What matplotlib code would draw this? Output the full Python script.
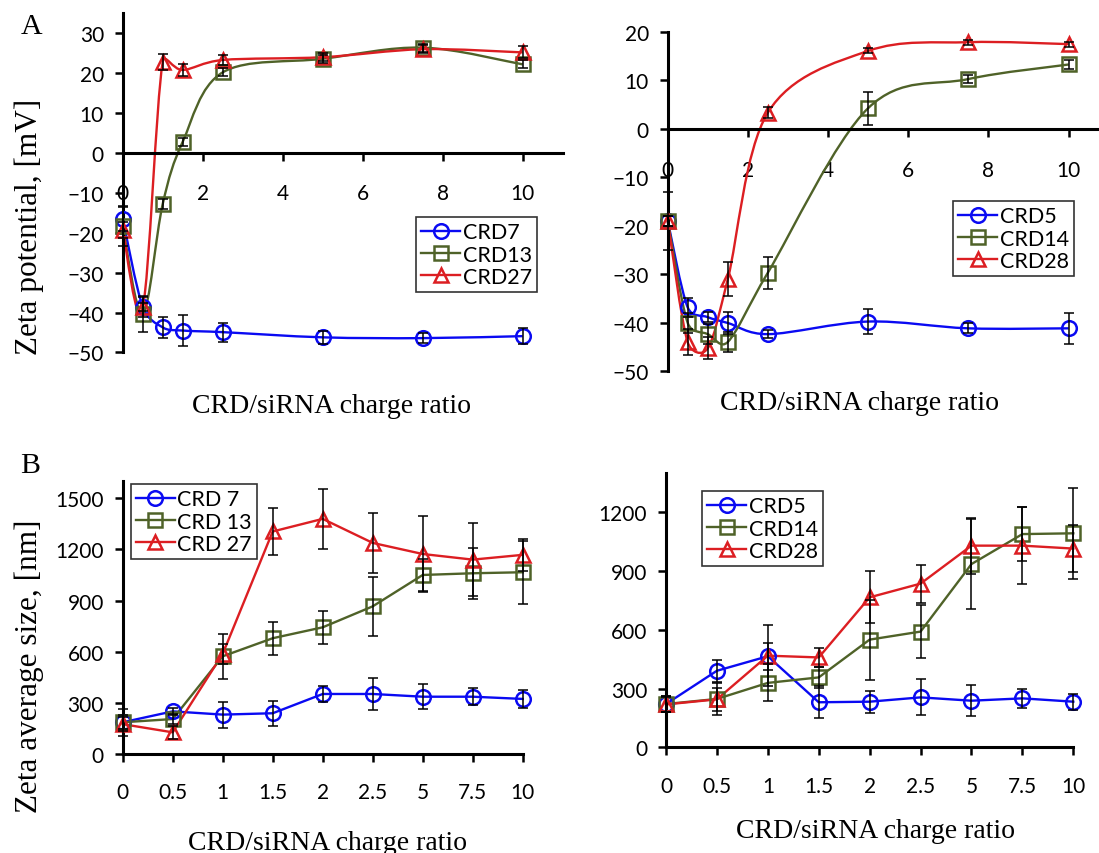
import numpy as np
import matplotlib
matplotlib.use("Agg")
import matplotlib.pyplot as plt
from matplotlib.path import Path
from matplotlib.patches import PathPatch
from matplotlib.lines import Line2D

plt.rcParams['font.family'] = ['Lato', 'DejaVu Sans']
SERIF = ['Liberation Serif', 'DejaVu Serif']

# ---- data ----
# panel A: zeta potential vs charge ratio (numeric x)
ratio_a = [0, 0.5, 1, 1.5, 2.5, 5, 7.5, 10]

crd7_zeta = [-16.5, -38.5, -43.7, -44.5, -44.9, -46.2, -46.4, -45.9]
crd7_zeta_err = [3, 1, 2.6, 3.8, 2.4, 1.7, 1.3, 2]
crd13_zeta = [-18.4, -40.4, -12.8, 2.8, 20.2, 23.6, 26.4, 22.2]
crd13_zeta_err = [5, 4.5, 1.2, 1, 1, 1, 1, 1]
crd27_zeta = [-19.2, -38.7, 22.8, 20.8, 23.3, 24.0, 26.0, 25.2]
crd27_zeta_err = [2, 2.5, 2, 1.5, 1.2, 1, 1, 1.5]

crd5_zeta = [-18.9, -36.8, -38.8, -40.0, -42.3, -39.7, -41.1, -41.1]
crd5_zeta_err = [6, 1.9, 1, 2.3, 0.8, 2.6, 1, 3.2]
crd14_zeta = [-18.9, -40.0, -42.3, -43.9, -29.6, 4.3, 10.3, 13.3]
crd14_zeta_err = [1, 2, 2, 2, 3.3, 3.4, 0.8, 1]
crd28_zeta = [-19.0, -44.0, -45.2, -30.9, 3.4, 16.1, 17.9, 17.5]
crd28_zeta_err = [1, 2.7, 2.3, 3.5, 1.2, 0.5, 0.5, 0.5]

# panel B: size vs charge ratio (categorical x)
ratio_b = ['0', '0.5', '1', '1.5', '2', '2.5', '5', '7.5', '10']

crd7_size = [186, 250, 231, 239, 352, 352, 336, 336, 323]
crd7_size_err = [80, 20, 76, 73, 48, 92, 75, 49, 54]
crd13_size = [186, 205, 573, 679, 743, 866, 1050, 1060, 1066]
crd13_size_err = [40, 30, 132, 97, 95, 174, 95, 150, 186]
crd27_size = [175, 127, 587, 1305, 1379, 1238, 1173, 1140, 1168]
crd27_size_err = [40, 40, 60, 137, 177, 175, 224, 215, 93]

crd5_size = [221, 391, 465, 230, 233, 255, 238, 250, 233]
crd5_size_err = [40, 56, 68, 82, 56, 92, 80, 47, 40]
crd14_size = [221, 247, 329, 357, 550, 591, 936, 1089, 1093]
crd14_size_err = [40, 80, 95, 55, 204, 134, 230, 136, 231]
crd28_size = [219, 245, 468, 459, 766, 836, 1030, 1030, 1015]
crd28_size_err = [40, 60, 157, 50, 133, 97, 143, 197, 119]

BLUE = '#0A0AF2'
GREEN = '#4F6228'
RED = '#DC1E22'

fig = plt.figure(figsize=(10.99, 8.54), dpi=100)


def smooth_line(ax, x, y, color):
    # excel style smoothing: catmull-rom arms (1/6), clamped to half the segment
    pts = ax.transData.transform(np.column_stack([x, y]))
    n = len(pts)
    verts = [pts[0]]
    codes = [Path.MOVETO]
    for i in range(n - 1):
        p0 = pts[max(i - 1, 0)]
        p1 = pts[i]
        p2 = pts[i + 1]
        p3 = pts[min(i + 2, n - 1)]
        d = np.hypot(*(p2 - p1))
        a1 = (p2 - p0) / 6
        a2 = (p3 - p1) / 6
        for a in (a1, a2):
            la = np.hypot(*a)
            if la > d / 2:
                a *= (d / 2) / la
        verts += [p1 + a1, p2 - a2, p2]
        codes += [Path.CURVE4] * 3
    verts = ax.transData.inverted().transform(np.array(verts))
    ax.add_patch(PathPatch(Path(verts, codes), fill=False, edgecolor=color,
                           lw=1.7, zorder=2, clip_on=False))


def draw_series(ax, x, y, err, color, marker, smooth):
    if smooth:
        smooth_line(ax, x, y, color)
    else:
        ax.plot(x, y, color=color, lw=1.7, zorder=2, clip_on=False)
    eb = ax.errorbar(x, y, yerr=err, fmt='none', ecolor='black', elinewidth=1.1,
                     capsize=3.5, capthick=1.1, zorder=4)
    for a in eb.get_children():
        a.set_clip_on(False)
    ax.plot(x, y, ls='none', marker=marker, ms=10.5, mfc='none', mec=color,
            mew=1.8, zorder=3, clip_on=False)


def style_axes(ax, xpad):
    for s in ['top', 'right']:
        ax.spines[s].set_visible(False)
    for s in ['left', 'bottom']:
        ax.spines[s].set_linewidth(2.2)
    ax.tick_params(axis='both', direction='out', length=5.5, width=1.8,
                   labelsize=15)
    ax.tick_params(axis='y', pad=8)
    ax.tick_params(axis='x', pad=xpad)


def add_legend(ax, labels, corner):
    handles = [Line2D([], [], color=c, lw=1.7, marker=m, ms=10.5, mfc='none',
                      mec=c, mew=1.8)
               for c, m in zip([BLUE, GREEN, RED], ['o', 's', '^'])]
    leg = ax.legend(handles, labels, loc='upper left',
                    bbox_to_anchor=(corner[0] / 1099, 1 - corner[1] / 854),
                    bbox_transform=fig.transFigure, fontsize=15.5,
                    frameon=True, fancybox=False, edgecolor='black',
                    handlelength=1.8, handletextpad=0.12, borderpad=0.25,
                    labelspacing=0.1, borderaxespad=0)
    leg.get_frame().set_linewidth(1.2)


# ---- A left ----
ax1 = fig.add_axes([0.11165, 0.58607, 0.40036, 0.39719])
ax1.set_xlim(0, 11)
ax1.set_ylim(-50, 35)
style_axes(ax1, 16)
ax1.spines['bottom'].set_position(('data', 0))
ax1.set_xticks([0, 2, 4, 6, 8, 10])
ax1.set_yticks(np.arange(-50, 31, 10))
draw_series(ax1, ratio_a, crd7_zeta, crd7_zeta_err, BLUE, 'o', True)
draw_series(ax1, ratio_a, crd13_zeta, crd13_zeta_err, GREEN, 's', True)
draw_series(ax1, ratio_a, crd27_zeta, crd27_zeta_err, RED, '^', True)
add_legend(ax1, ['CRD7', 'CRD13', 'CRD27'], (416, 218))

# ---- A right ----
ax2 = fig.add_axes([0.60755, 0.56382, 0.39036, 0.39754])
ax2.set_xlim(0, 10.7)
ax2.set_ylim(-50, 20)
style_axes(ax2, 17)
ax2.spines['bottom'].set_position(('data', 0))
ax2.set_xticks([0, 2, 4, 6, 8, 10])
ax2.set_yticks(np.arange(-50, 21, 10))
draw_series(ax2, ratio_a, crd5_zeta, crd5_zeta_err, BLUE, 'o', True)
draw_series(ax2, ratio_a, crd14_zeta, crd14_zeta_err, GREEN, 's', True)
draw_series(ax2, ratio_a, crd28_zeta, crd28_zeta_err, RED, '^', True)
add_legend(ax2, ['CRD5', 'CRD14', 'CRD28'], (953, 202))

# ---- B left ----
pos = np.arange(len(ratio_b))
ax3 = fig.add_axes([0.11165, 0.11593, 0.36397, 0.31944])
ax3.set_xlim(0, len(ratio_b) - 1)
ax3.set_ylim(0, 1600)
style_axes(ax3, 15)
ax3.set_xticks(pos)
ax3.set_xticklabels(ratio_b)
ax3.set_yticks(np.arange(0, 1501, 300))
draw_series(ax3, pos, crd7_size, crd7_size_err, BLUE, 'o', False)
draw_series(ax3, pos, crd13_size, crd13_size_err, GREEN, 's', False)
draw_series(ax3, pos, crd27_size, crd27_size_err, RED, '^', False)
add_legend(ax3, ['CRD 7', 'CRD 13', 'CRD 27'], (130.7, 485))

# ---- B right ----
ax4 = fig.add_axes([0.60601, 0.12377, 0.37061, 0.32096])
ax4.set_xlim(0, len(ratio_b) - 1)
ax4.set_ylim(0, 1400)
style_axes(ax4, 15)
ax4.set_xticks(pos)
ax4.set_xticklabels(ratio_b)
ax4.set_yticks(np.arange(0, 1201, 300))
draw_series(ax4, pos, crd5_size, crd5_size_err, BLUE, 'o', False)
draw_series(ax4, pos, crd14_size, crd14_size_err, GREEN, 's', False)
draw_series(ax4, pos, crd28_size, crd28_size_err, RED, '^', False)
add_legend(ax4, ['CRD5', 'CRD14', 'CRD28'], (702, 492))

# ---- labels ----
def ftext(px, py, s, **kw):
    fig.text(px / 1099, 1 - py / 854, s, family=SERIF, **kw)

ftext(32, 27, 'A', fontsize=21.5, ha='center', va='center')
ftext(30, 466, 'B', fontsize=21.5, ha='center', va='center')
ftext(29, 227, 'Zeta potential, [mV]', fontsize=22.5, rotation=90,
      ha='center', va='center')
ftext(29, 666, 'Zeta average size, [nm]', fontsize=22.5, rotation=90,
      ha='center', va='center')
ftext(332, 413, 'CRD/siRNA charge ratio', fontsize=20, ha='center', va='baseline')
ftext(860, 410, 'CRD/siRNA charge ratio', fontsize=20, ha='center', va='baseline')
ftext(328, 850, 'CRD/siRNA charge ratio', fontsize=20, ha='center', va='baseline')
ftext(876, 838, 'CRD/siRNA charge ratio', fontsize=20, ha='center', va='baseline')

fig.savefig('out.png', dpi=100)
